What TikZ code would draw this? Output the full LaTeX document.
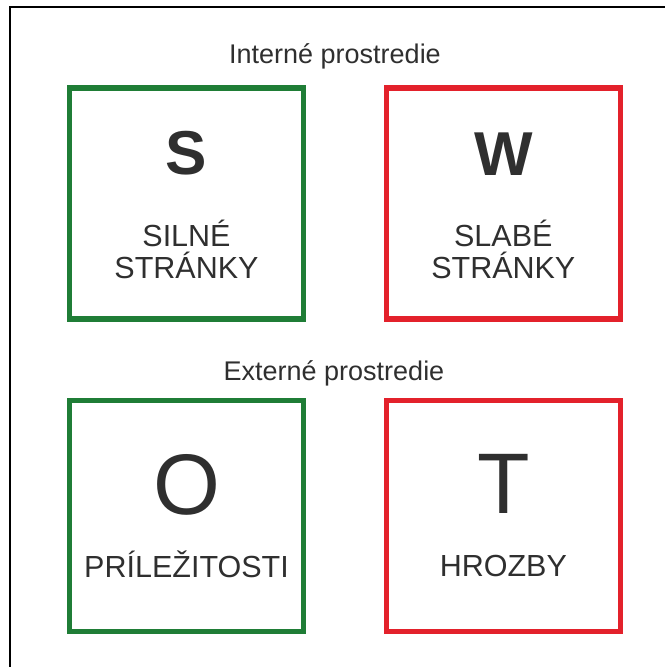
\documentclass[tikz,border=0pt]{standalone}
\usepackage{fontspec}
\setmainfont{Liberation Sans}
\definecolor{swotgreen}{HTML}{1F7D36}
\definecolor{swotred}{HTML}{E3212B}
\definecolor{ink}{HTML}{2F2F2F}

\begin{document}
\begin{tikzpicture}[x=1pt,y=-1pt,
quad/.style={%
draw,
line width=5.5pt,
minimum width=234pt,
minimum height=231pt,
inner sep=0pt,
},
head/.style={%
anchor=base,
text=ink,
inner sep=0pt,
font=\fontsize{27}{32}\selectfont,
},
letter/.style={%
anchor=base,
text=ink,
inner sep=0pt,
},
caption/.style={%
anchor=base,
text=ink,
inner sep=0pt,
font=\fontsize{30.5}{36}\selectfont,
},
]
%% Page and frame (only top and left edges fall on the page)
\useasboundingbox (0,0) rectangle (665,667);
\draw[line width=1.8pt] (10,667) -- (10,6.8) -- (665,6.8);
%% Quadrants
\node[quad,draw=swotgreen] (S) at (186.5,203.5) {};
\node[quad,draw=swotred] (W) at (503.3,203.5) {};
\node[quad,draw=swotgreen] (O) at (186.5,515.8) {};
\node[quad,draw=swotred] (T) at (503.3,515.8) {};
%% Headings
\node[head] (intern) at (335,63.3) {Interné prostredie};
\node[head] (extern) at (334,380) {Externé prostredie};
%% Letters
\node[letter,font=\bfseries\fontsize{62}{62}\selectfont] (sl) at (186.5,174) {S};
\node[letter,font=\bfseries\fontsize{62}{62}\selectfont] (wl) at (503.3,175) {W};
\node[letter,font=\fontsize{86}{86}\selectfont] (ol) at (186.5,514) {O};
\node[letter,font=\fontsize{86}{86}\selectfont] (tl) at (503.3,513.3) {T};
%% Captions
\node[caption] (s1) at (186.5,246.7) {SILNÉ};
\node[caption] (s2) at (186.5,278.3) {STRÁNKY};
\node[caption] (w1) at (503.3,246.7) {SLABÉ};
\node[caption] (w2) at (503.3,278.3) {STRÁNKY};
\node[caption] (o1) at (186.5,577) {PRÍLEŽITOSTI};
\node[caption] (t1) at (503.3,576.7) {HROZBY};
\end{tikzpicture}
\end{document}
